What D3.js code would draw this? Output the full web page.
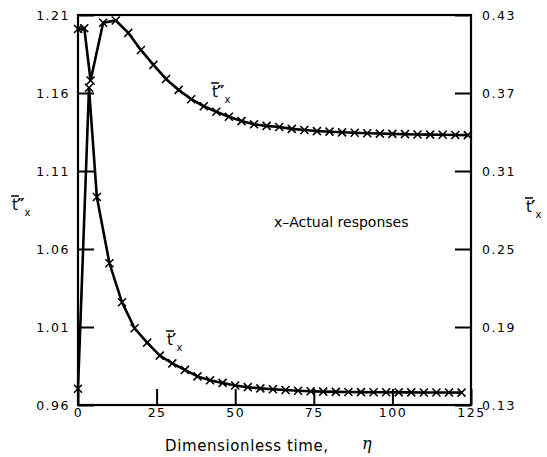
<!DOCTYPE html>
<html><head><meta charset="utf-8">
<script src="https://cdn.jsdelivr.net/npm/d3@7"></script>
<style>body{margin:0;background:#fff}svg{display:block}</style>
</head><body>
<svg id="c" width="547" height="457"></svg>
<script>
// ---- data ----
const etaTpp = [0, 2, 4, 8, 12, 16, 20, 24, 28, 32, 36, 40, 44, 48, 52, 56, 60, 64, 68, 72, 76, 80, 84, 88, 92, 96, 100, 104, 108, 112, 116, 120, 124];
const tppVals = [1.201, 1.2015, 1.168, 1.205, 1.2065, 1.1985, 1.1876, 1.178, 1.169, 1.162, 1.156, 1.1515, 1.148, 1.1448, 1.142, 1.140, 1.1389, 1.1382, 1.137, 1.1363, 1.1356, 1.1352, 1.1348, 1.1345, 1.1342, 1.134, 1.1338, 1.1336, 1.1334, 1.1333, 1.1332, 1.1331, 1.133];
const etaTp = [0, 3.5, 6, 10, 14, 18, 22, 26, 30, 34, 38, 42, 46, 50, 54, 58, 62, 66, 70, 74, 78, 82, 86, 90, 94, 98, 102, 106, 110, 114, 118, 122];
const tpVals = [0.1425, 0.374, 0.290, 0.239, 0.209, 0.189, 0.178, 0.168, 0.162, 0.157, 0.152, 0.149, 0.147, 0.145, 0.1437, 0.1428, 0.1421, 0.1415, 0.1410, 0.1406, 0.1403, 0.1401, 0.1400, 0.1399, 0.1398, 0.1398, 0.1397, 0.1397, 0.1396, 0.1396, 0.1396, 0.1395];
const xTicks = [0, 25, 50, 75, 100, 125];
const yLeftTicks = [0.96, 1.01, 1.06, 1.11, 1.16, 1.21];
const yRightTicks = [0.13, 0.19, 0.25, 0.31, 0.37, 0.43];

const svg = d3.select("#c");
const L = 78, R = 471, T = 15, B = 405;
const x = d3.scaleLinear().domain([0, 125]).range([L, R]);
const yL = d3.scaleLinear().domain([0.96, 1.21]).range([B, T]);
const yR = d3.scaleLinear().domain([0.13, 0.43]).range([B, T]);
const font = "DejaVu Sans, Liberation Sans, sans-serif";

function styleAxis(g){
  g.select(".domain").remove();
  g.selectAll(".tick line").attr("stroke", "#000").attr("stroke-width", 2);
  g.selectAll(".tick text").attr("font-family", font).attr("font-size", 12.5)
    .attr("letter-spacing", "1.5px").attr("fill", "#000");
}
svg.append("g").attr("transform", `translate(${L},0)`)
  .call(d3.axisLeft(yL).tickValues(yLeftTicks).tickFormat(d3.format(".2f")).tickSizeInner(-16).tickSizeOuter(0).tickPadding(8))
  .call(styleAxis);
svg.append("g").attr("transform", `translate(${R},0)`)
  .call(d3.axisRight(yR).tickValues(yRightTicks).tickFormat(d3.format(".2f")).tickSizeInner(-16).tickSizeOuter(0).tickPadding(11))
  .call(styleAxis);
svg.append("g").attr("transform", `translate(0,${B})`)
  .call(d3.axisBottom(x).tickValues(xTicks).tickFormat(d3.format("d")).tickSizeInner(-16).tickSizeOuter(0).tickPadding(3))
  .call(styleAxis);

// frame
svg.append("rect").attr("x", L).attr("y", T).attr("width", R - L).attr("height", B - T)
  .attr("fill", "none").attr("stroke", "#000").attr("stroke-width", 2.2);

// curves
const lineL = d3.line().x(d => x(d[0])).y(d => yL(d[1]));
const lineR = d3.line().x(d => x(d[0])).y(d => yR(d[1]));
const dTpp = etaTpp.map((e, i) => [e, tppVals[i]]);
const dTp = etaTp.map((e, i) => [e, tpVals[i]]);
svg.append("path").attr("d", lineL(dTpp)).attr("fill", "none").attr("stroke", "#000").attr("stroke-width", 2.6);
svg.append("path").attr("d", lineR(dTp)).attr("fill", "none").attr("stroke", "#000").attr("stroke-width", 2.6);

function crosses(pts){
  const s = 4;
  svg.append("g").selectAll("path").data(pts).join("path")
    .attr("d", p => `M${p[0]-s},${p[1]-s}L${p[0]+s},${p[1]+s}M${p[0]-s},${p[1]+s}L${p[0]+s},${p[1]-s}`)
    .attr("stroke", "#000").attr("stroke-width", 1.6);
}
crosses(dTpp.map(d => [x(d[0]), yL(d[1])]));
crosses(dTp.map(d => [x(d[0]), yR(d[1])]));

// t-bar labels: one text element with tspans
function tLabel(px, py, primes){
  const g = svg.append("g").attr("fill", "#000");
  const t = g.append("text").attr("x", px).attr("y", py).attr("font-family", font).attr("font-size", 15);
  t.append("tspan").text("t");
  t.append("tspan").attr("dx", -1).attr("dy", 1).attr("font-size", 17).attr("font-weight", "bold").text(primes);
  t.append("tspan").attr("dx", 0).attr("dy", 5).attr("font-size", 10).text("x");
  g.append("line").attr("x1", px - 1).attr("x2", px + 7).attr("y1", py - 14).attr("y2", py - 14)
    .attr("stroke", "#000").attr("stroke-width", 1.5);
}
tLabel(12, 210, "\u2033");
tLabel(526, 212, "\u2032");
tLabel(212, 97, "\u2033");
tLabel(167, 345, "\u2032");

svg.append("text").attr("x", 274).attr("y", 227).attr("font-family", font).attr("font-size", 14)
  .attr("fill", "#000").text("x\u2013Actual responses");

svg.append("text").attr("x", 165).attr("y", 451).attr("font-family", font).attr("font-size", 15)
  .attr("fill", "#000").attr("letter-spacing", "0.6px").text("Dimensionless time,");
svg.append("text").attr("x", 362).attr("y", 449).attr("font-family", "DejaVu Serif, serif").attr("font-style", "italic")
  .attr("font-size", 16).attr("fill", "#000").text("\u03b7");
</script>
</body></html>
